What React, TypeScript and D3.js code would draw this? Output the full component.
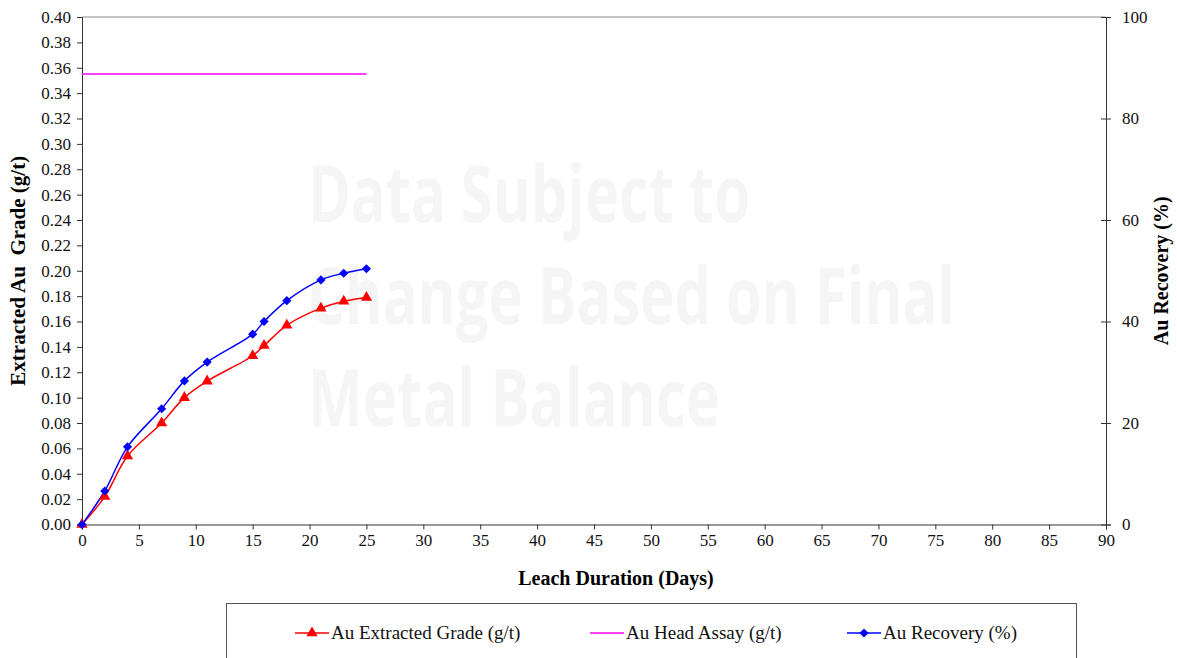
import React, { useRef, useEffect } from "react";
import * as d3 from "d3";

const days = [0, 2, 4, 7, 9, 11, 15, 16, 18, 21, 23, 25];
const extractedGrade = [0, 0.022, 0.054, 0.08, 0.1, 0.113, 0.133, 0.141, 0.157, 0.1705, 0.176, 0.179];
const recovery = [0, 6.6, 15.3, 22.8, 28.3, 32.0, 37.5, 40.0, 44.1, 48.2, 49.5, 50.4];
const headAssay = 0.355;
const headAssayDays = [0, 25];
const watermark = ["Data Subject to", "Change Based on Final", "Metal Balance"];
const watermarkWidths = [442, 647, 412];

const W = 1177;
const H = 658;
const margin = { left: 82, right: 1106, top: 17, bottom: 524.5 };
const serif = "'Liberation Serif', 'Times New Roman', serif";

const App = () => {
  const ref = useRef(null);

  useEffect(() => {
    const svg = d3.select(ref.current);
    svg.selectAll("*").remove();

    const x = d3.scaleLinear().domain([0, 90]).range([margin.left, margin.right]);
    const yL = d3.scaleLinear().domain([0, 0.4]).range([margin.bottom, margin.top]);
    const yR = d3.scaleLinear().domain([0, 100]).range([margin.bottom, margin.top]);

    svg.append("rect").attr("width", W).attr("height", H).attr("fill", "#fff");

    // watermark
    const wm = svg.append("g").attr("fill", "#f5f5f5")
      .style("font-family", "'Open Sans', 'Noto Sans', sans-serif")
      .style("font-weight", "bold").style("font-size", "78px");
    watermark.forEach((t, i) => {
      wm.append("text").attr("x", 308).attr("y", 222 + i * 102)
        .attr("textLength", watermarkWidths[i]).attr("lengthAdjust", "spacingAndGlyphs")
        .text(t);
    });

    // plot border top
    svg.append("line").attr("x1", margin.left).attr("x2", margin.right)
      .attr("y1", margin.top).attr("y2", margin.top).attr("stroke", "#888").attr("stroke-width", 1);

    const axisStyle = (g) => {
      g.selectAll("path").attr("stroke", "#333");
      g.selectAll("line").attr("stroke", "#333");
      g.selectAll("text").style("font-family", serif).style("font-size", "17px").attr("fill", "#111");
    };

    svg.append("g").attr("transform", `translate(${margin.left},0)`)
      .call(d3.axisLeft(yL).tickValues(d3.range(0, 0.4001, 0.02)).tickFormat(d3.format(".2f")).tickSizeOuter(0).tickSize(5).tickPadding(6))
      .call(axisStyle);

    const right = svg.append("g").attr("transform", `translate(${margin.right},0)`)
      .call(d3.axisRight(yR).tickValues(d3.range(0, 101, 20)).tickSizeOuter(0).tickSize(5).tickPadding(11))
      .call(axisStyle);
    right.selectAll(".tick line").attr("x1", -5);

    svg.append("g").attr("transform", `translate(0,${margin.bottom})`)
      .call(d3.axisBottom(x).tickValues(d3.range(0, 91, 5)).tickSizeOuter(0).tickSize(5).tickPadding(4))
      .call(axisStyle);

    // head assay
    svg.append("line").attr("x1", x(headAssayDays[0])).attr("x2", x(headAssayDays[1]))
      .attr("y1", yL(headAssay)).attr("y2", yL(headAssay)).attr("stroke", "#ff00ff").attr("stroke-width", 1.5);

    const gradePts = days.map((d, i) => [x(d), yL(extractedGrade[i])]);
    const recPts = days.map((d, i) => [x(d), yR(recovery[i])]);
    const line = d3.line().curve(d3.curveCatmullRom.alpha(0.5));

    svg.append("path").attr("d", line(gradePts)).attr("fill", "none").attr("stroke", "#ff0000").attr("stroke-width", 1.5);
    svg.append("path").attr("d", line(recPts)).attr("fill", "none").attr("stroke", "#0000ff").attr("stroke-width", 1.5);

    const tri = d3.symbol().type(d3.symbolTriangle).size(55);
    const dia = d3.symbol().type(d3.symbolSquare).size(42);

    svg.append("g").selectAll("path").data(gradePts).join("path")
      .attr("d", tri).attr("transform", (p) => `translate(${p[0]},${p[1]})`).attr("fill", "#ff0000");
    svg.append("g").selectAll("path").data(recPts).join("path")
      .attr("d", dia).attr("transform", (p) => `translate(${p[0]},${p[1]}) rotate(45)`).attr("fill", "#0000ff");

    // axis titles
    const title = (sel) => sel.attr("text-anchor", "middle").style("font-family", serif)
      .style("font-weight", "bold").attr("fill", "#000");
    svg.append("text").attr("transform", `translate(25,${(margin.top + margin.bottom) / 2}) rotate(-90)`)
      .call(title).style("font-size", "21px").style("white-space", "pre")
      .text("Extracted Au  Grade (g/t)");
    svg.append("text").attr("transform", `translate(1168,${(margin.top + margin.bottom) / 2}) rotate(-90)`)
      .call(title).style("font-size", "20px")
      .text("Au Recovery (%)");
    svg.append("text").attr("x", 616).attr("y", 585)
      .call(title).style("font-size", "20px")
      .text("Leach Duration (Days)");

    // legend
    svg.append("rect").attr("x", 226.5).attr("y", 603.5).attr("width", 850).attr("height", 70)
      .attr("fill", "none").attr("stroke", "#555").attr("stroke-width", 1);
    const items = [
      { label: "Au Extracted Grade (g/t)", color: "#ff0000", sym: "tri", x: 295 },
      { label: "Au Head Assay (g/t)", color: "#ff00ff", sym: null, x: 590 },
      { label: "Au Recovery (%)", color: "#0000ff", sym: "dia", x: 847 },
    ];
    const ly = 633;
    items.forEach((it) => {
      const g = svg.append("g");
      g.append("line").attr("x1", it.x).attr("x2", it.x + 34).attr("y1", ly).attr("y2", ly)
        .attr("stroke", it.color).attr("stroke-width", 1.5);
      if (it.sym === "tri")
        g.append("path").attr("d", tri).attr("transform", `translate(${it.x + 17},${ly})`).attr("fill", it.color);
      if (it.sym === "dia")
        g.append("path").attr("d", dia).attr("transform", `translate(${it.x + 17},${ly}) rotate(45)`).attr("fill", it.color);
      g.append("text").attr("x", it.x + 36).attr("y", ly + 6)
        .style("font-family", serif).style("font-size", "19px").attr("fill", "#111").text(it.label);
    });
  }, []);

  return (
    <svg ref={ref} width={W} height={H} style={{ position: "absolute", left: 0, top: 0, display: "block" }} />
  );
};

export default App;
